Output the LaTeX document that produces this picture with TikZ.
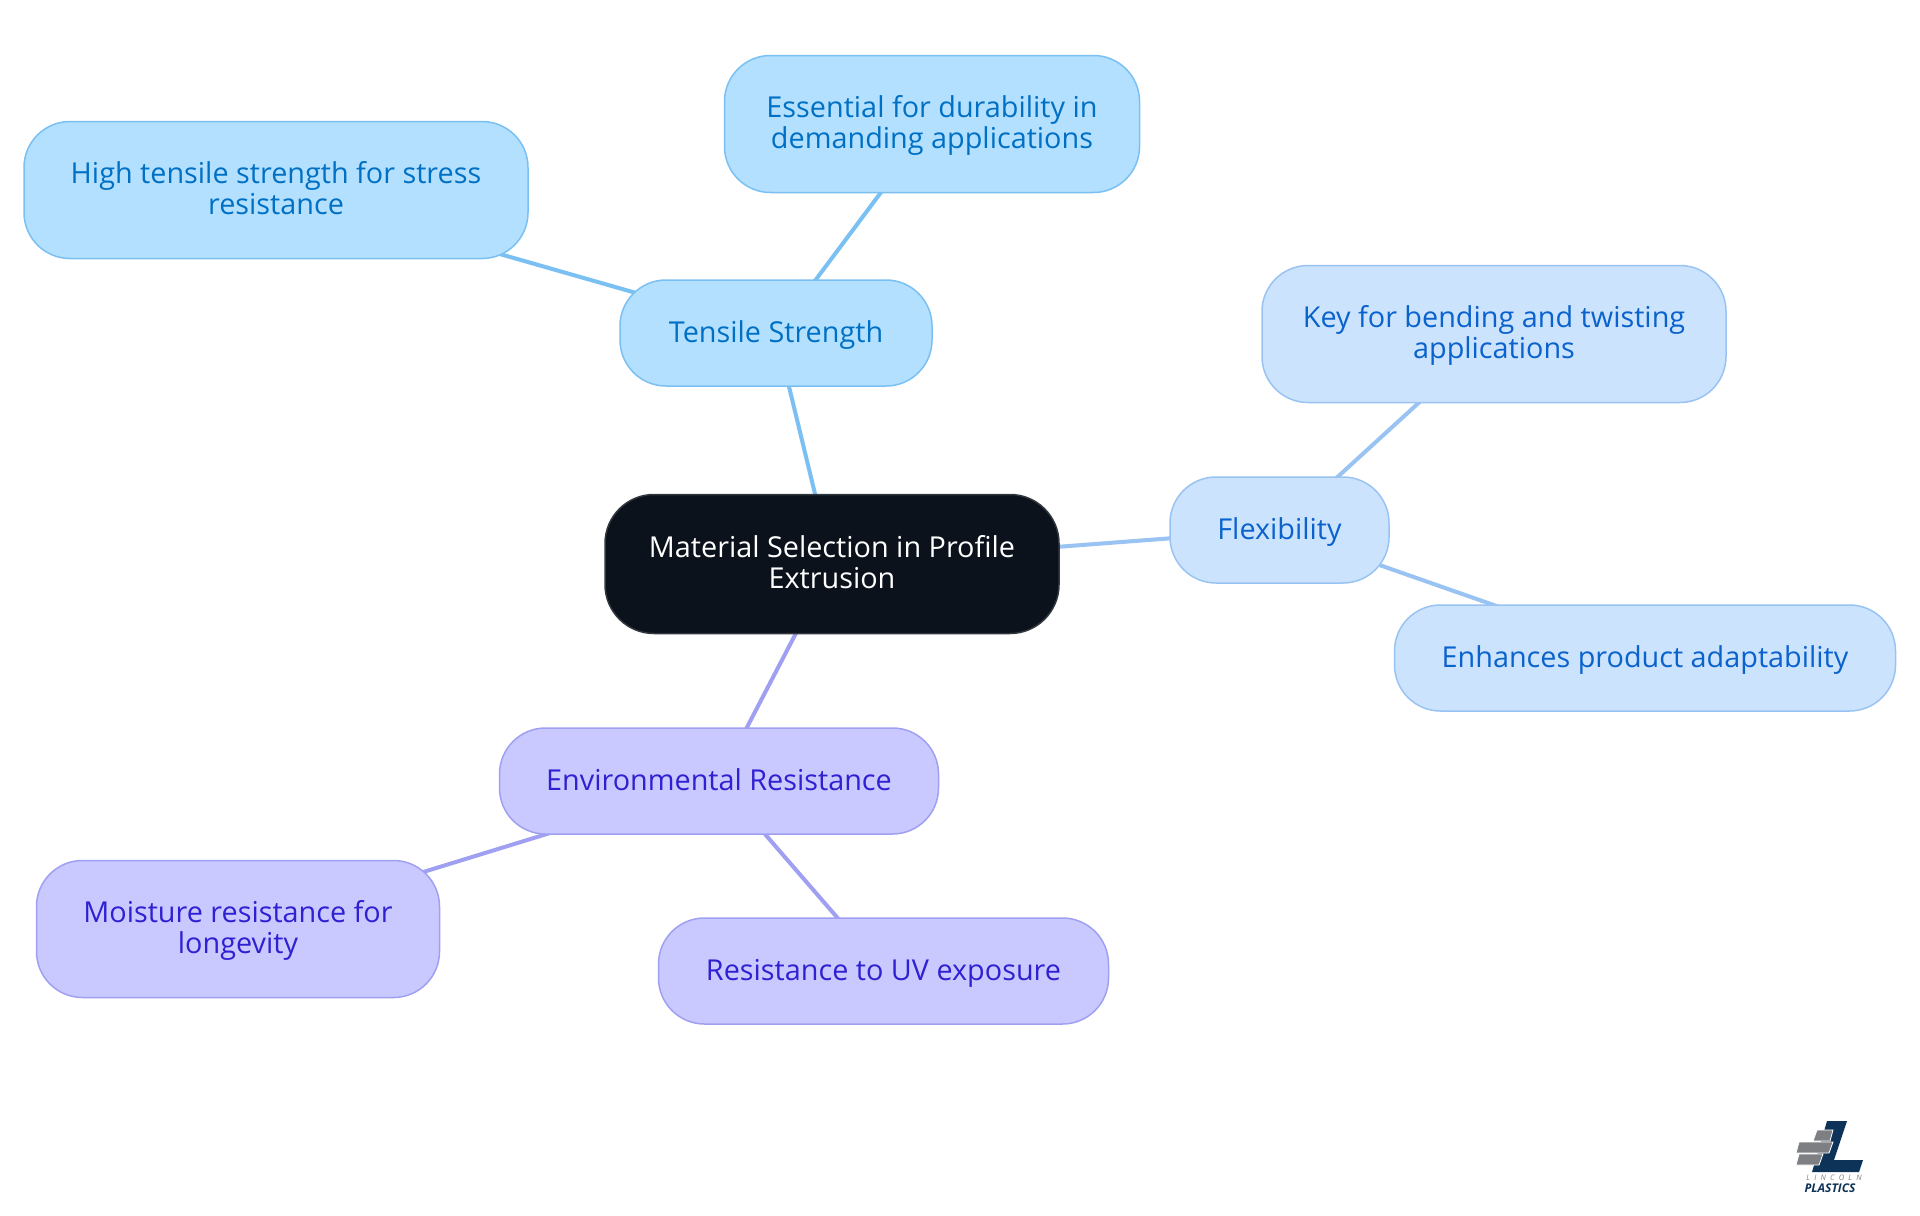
\documentclass[tikz,border=0pt]{standalone}
\usepackage{fontspec}
\setmainfont{Open Sans}
\usetikzlibrary{backgrounds}
\definecolor{rootfill}{HTML}{0B121B}
\definecolor{rootline}{HTML}{33383F}
\definecolor{tensilefill}{HTML}{B3E0FF}
\definecolor{tensileline}{HTML}{7BC0F2}
\definecolor{tensiletext}{HTML}{0070C4}
\definecolor{flexfill}{HTML}{CCE3FD}
\definecolor{flexline}{HTML}{99C3F2}
\definecolor{flextext}{HTML}{0A62CC}
\definecolor{envfill}{HTML}{C9C9FF}
\definecolor{envline}{HTML}{A0A0F2}
\definecolor{envtext}{HTML}{2F20D2}
\definecolor{logonavy}{HTML}{0E3358}
\definecolor{logogrey}{HTML}{7E7F82}

\begin{document}
\begin{tikzpicture}
    [
    x=0.5pt,y=-0.5pt,
    box/.style = {draw,line width=0.75pt,rounded corners=23pt,align=center,inner sep=0pt,font=\fontsize{14.4}{15.4}\selectfont,execute at begin node=\rule{0pt}{13pt},execute at end node=\rule[-4pt]{0pt}{4pt}},
    twolines/.style = {minimum height=68.5pt,execute at begin node=\rule{0pt}{28pt}},
    root/.style = {box,rounded corners=24.5pt,fill=rootfill,draw=rootline,text=white},
    tensile/.style = {box,fill=tensilefill,draw=tensileline,text=tensiletext},
    flex/.style = {box,fill=flexfill,draw=flexline,text=flextext},
    env/.style = {box,fill=envfill,draw=envline,text=envtext},
    link/.style = {line width=2pt},
    brick/.style = {fill=logogrey,draw=white,line width=0.4pt}
    ]
\useasboundingbox (0,0) rectangle (1920,1215);

\node[root,twolines,minimum width=227pt,minimum height=69.5pt] (material) at (832,564) {Material Selection in Profile\\Extrusion};

\node[tensile,minimum width=156pt,minimum height=53pt] (strength) at (776,333) {Tensile Strength};
\node[tensile,twolines,minimum width=207.5pt] (durability) at (932,124) {Essential for durability in\\demanding applications};
\node[tensile,twolines,minimum width=252pt] (stress) at (276,190) {High tensile strength for stress\\resistance};

\node[flex,minimum width=109.5pt,minimum height=53pt] (flexibility) at (1279.5,530) {Flexibility};
\node[flex,twolines,minimum width=232pt] (bending) at (1494,334) {Key for bending and twisting\\applications};
\node[flex,minimum width=250.5pt,minimum height=53pt] (adaptability) at (1645,658) {Enhances product adaptability};

\node[env,minimum width=219.5pt,minimum height=53pt] (resistance) at (719,781) {Environmental Resistance};
\node[env,twolines,minimum width=201.5pt] (moisture) at (238,929) {Moisture resistance for\\longevity};
\node[env,minimum width=225pt,minimum height=53pt] (uv) at (883.5,971) {Resistance to UV exposure};

\begin{scope}[on background layer]
\fill[white] (0,0) rectangle (1920,1215);
\draw[link,tensileline] (material.center) -- (strength.center);
\draw[link,tensileline] (strength.center) -- (durability.center);
\draw[link,tensileline] (strength.center) -- (stress.center);
\draw[link,flexline] (material.center) -- (flexibility.center);
\draw[link,flexline] (flexibility.center) -- (bending.center);
\draw[link,flexline] (flexibility.center) -- (adaptability.center);
\draw[link,envline] (material.center) -- (resistance.center);
\draw[link,envline] (resistance.center) -- (moisture.center);
\draw[link,envline] (resistance.center) -- (uv.center);
\end{scope}

% logo
\fill[logonavy] (1827,1121) -- (1847,1121) -- (1834,1160) -- (1863,1160) -- (1859,1172) -- (1812,1172) -- cycle;
\path[brick] (1817,1130) -- (1833,1130) -- (1830,1141) -- (1813,1141) -- cycle;
\path[brick] (1799,1142) -- (1833,1142) -- (1829,1153) -- (1796,1153) -- cycle;
\path[brick] (1799,1154) -- (1823,1154) -- (1819,1165) -- (1796,1165) -- cycle;
\node[inner sep=0pt,logogrey,font=\fontsize{3.8}{4}\selectfont\itshape] (lincoln) at (1834,1178) {L\hspace{2.1pt}I\hspace{2.1pt}N\hspace{2.1pt}C\hspace{2.1pt}O\hspace{2.1pt}L\hspace{2.1pt}N};
\node[inner sep=0pt,logonavy,font=\fontsize{6}{6}\selectfont\bfseries\itshape] (plastics) at (1830,1188) {PLASTICS};
\end{tikzpicture}
\end{document}
